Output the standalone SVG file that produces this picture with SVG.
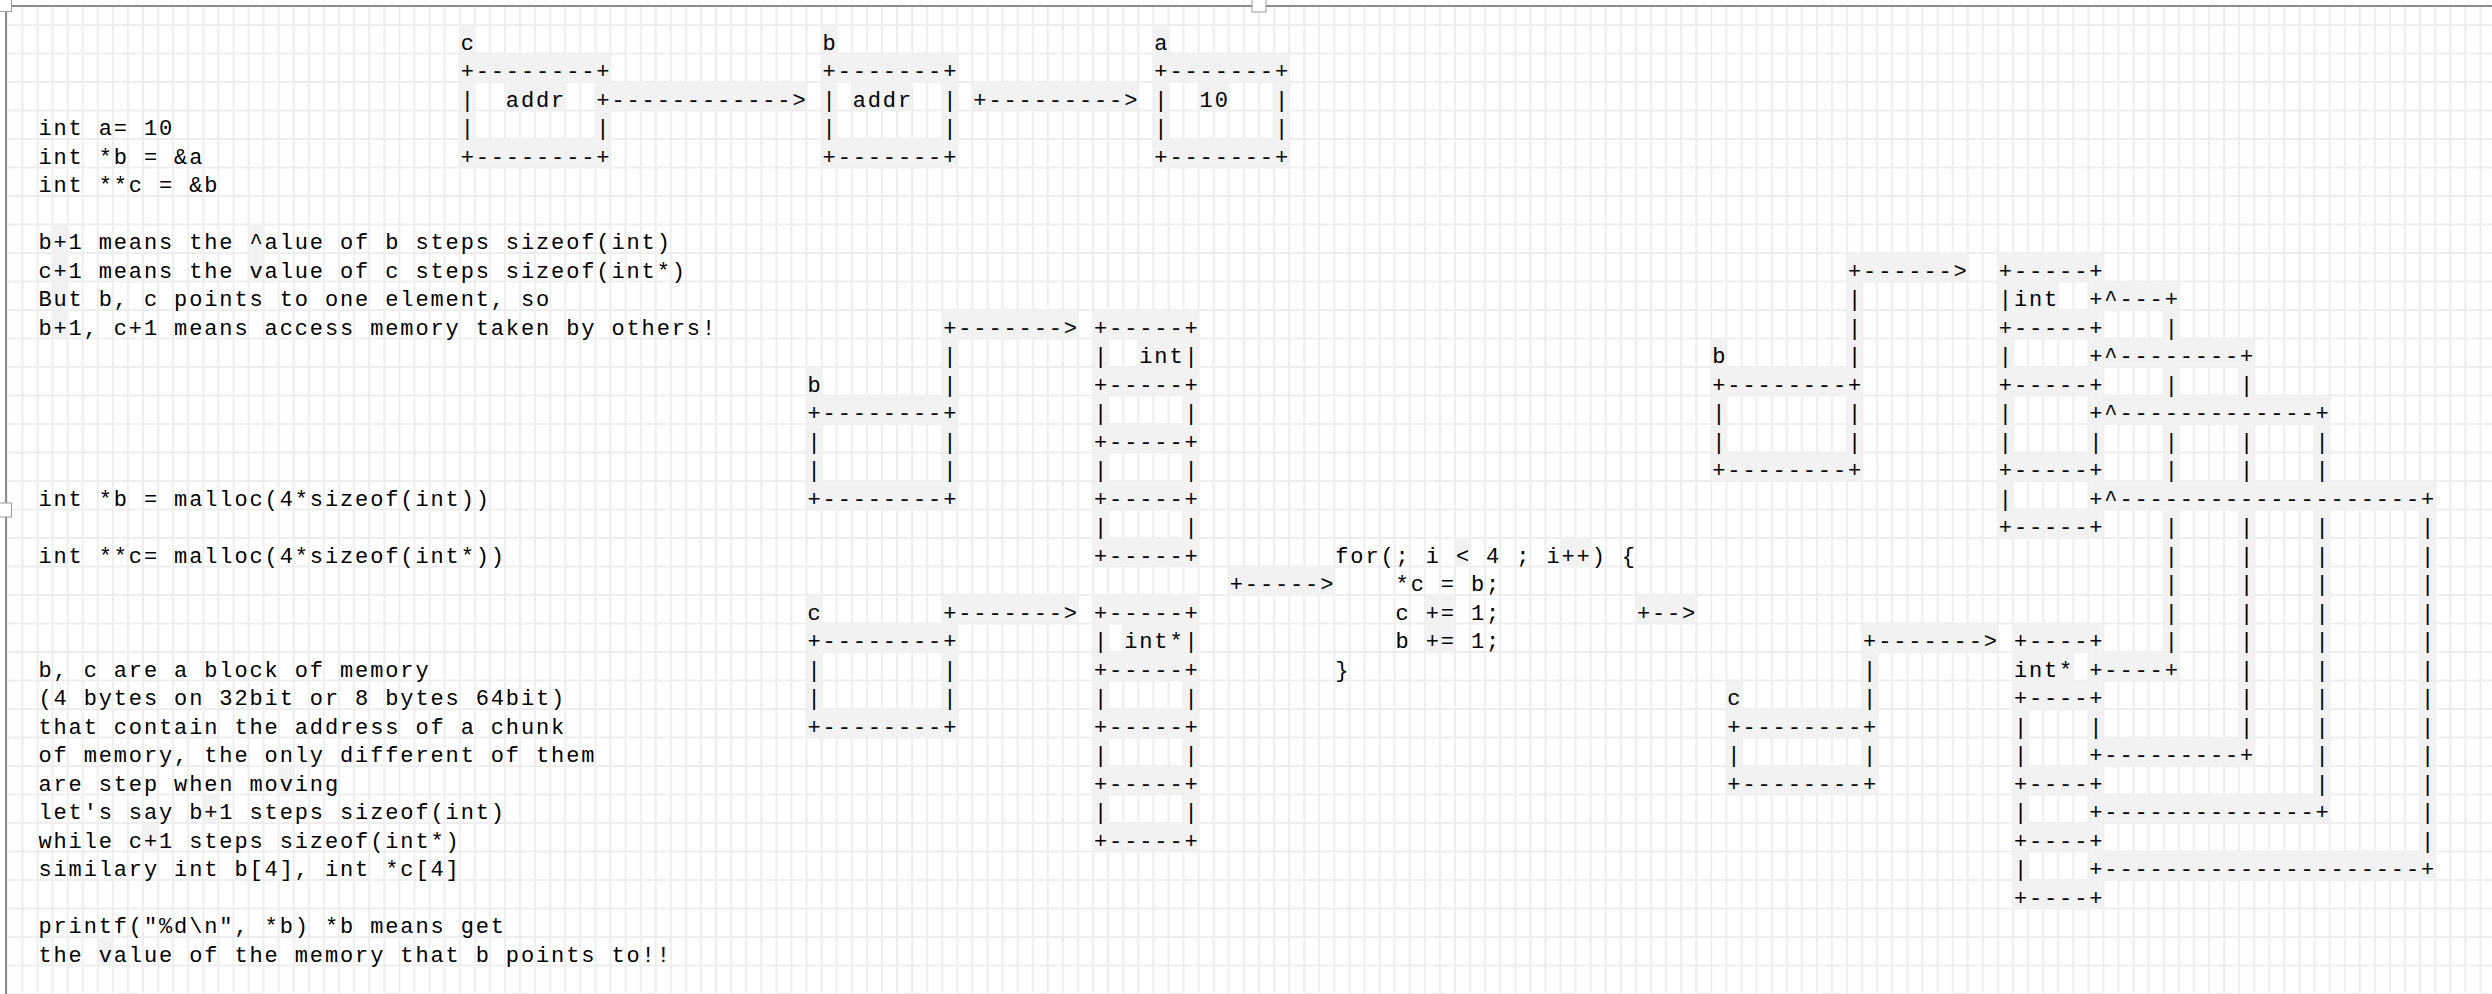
<svg xmlns="http://www.w3.org/2000/svg" width="2492" height="994" viewBox="0 0 2492 994">
<defs>
<pattern id="grid" patternUnits="userSpaceOnUse" x="6.3" y="24" width="15.08" height="28.5">
<rect width="15.08" height="28.5" fill="#ffffff"/>
<path d="M1 0 V28.5 M0 1 H15.08" stroke="#eeeeee" stroke-width="2" fill="none"/>
</pattern>
</defs>
<style>
.t{font-family:"Liberation Mono","DejaVu Sans Mono",monospace;font-size:22px;letter-spacing:1.878px;fill:#000000}
.p{fill:#f2f2f2}
.h{fill:#ffffff;stroke:#9a9a9a;stroke-width:1}
</style>
<rect x="0" y="0" width="2492" height="994" fill="#ffffff"/>
<rect id="page" x="6" y="6" width="2506" height="1008" fill="url(#grid)" stroke="#8c8c8c" stroke-width="2"/>

<g id="patches" class="p" transform="translate(7.3,25) scale(15.08,28.5)">
<rect x="30" y="0" width="1" height="1"/><rect x="54" y="0" width="1" height="1"/><rect x="76" y="0" width="1" height="1"/>
<rect x="30" y="1" width="10" height="1"/><rect x="30" y="2" width="1" height="2"/><rect x="33" y="2" width="4" height="1"/><rect x="39" y="2" width="1" height="2"/><rect x="30" y="4" width="10" height="1"/><rect x="40" y="2" width="13" height="1"/>
<rect x="54" y="1" width="9" height="1"/><rect x="54" y="2" width="1" height="2"/><rect x="56" y="2" width="4" height="1"/><rect x="62" y="2" width="1" height="2"/><rect x="54" y="4" width="9" height="1"/><rect x="64" y="2" width="11" height="1"/>
<rect x="76" y="1" width="9" height="1"/><rect x="76" y="2" width="1" height="2"/><rect x="79" y="2" width="2" height="1"/><rect x="84" y="2" width="1" height="2"/><rect x="76" y="4" width="9" height="1"/>
<rect x="53" y="12" width="1" height="1"/><rect x="53" y="13" width="10" height="1"/><rect x="53" y="14" width="1" height="2"/><rect x="62" y="14" width="1" height="2"/><rect x="53" y="16" width="10" height="1"/>
<rect x="62" y="10" width="9" height="1"/><rect x="62" y="11" width="1" height="2"/>
<rect x="72" y="10" width="1" height="9"/><rect x="78" y="10" width="1" height="9"/><rect x="73" y="10" width="5" height="1"/><rect x="73" y="12" width="5" height="1"/><rect x="73" y="14" width="5" height="1"/><rect x="73" y="16" width="5" height="1"/><rect x="73" y="18" width="5" height="1"/><rect x="75" y="11" width="3" height="1"/>
<rect x="53" y="20" width="1" height="1"/><rect x="53" y="21" width="10" height="1"/><rect x="53" y="22" width="1" height="2"/><rect x="62" y="22" width="1" height="2"/><rect x="53" y="24" width="10" height="1"/><rect x="62" y="20" width="9" height="1"/>
<rect x="72" y="20" width="1" height="9"/><rect x="78" y="20" width="1" height="9"/><rect x="73" y="20" width="5" height="1"/><rect x="73" y="22" width="5" height="1"/><rect x="73" y="24" width="5" height="1"/><rect x="73" y="26" width="5" height="1"/><rect x="73" y="28" width="5" height="1"/><rect x="74" y="21" width="4" height="1"/>
<rect x="96" y="18" width="1" height="1"/><rect x="103" y="18" width="2" height="1"/><rect x="94" y="20" width="2" height="1"/><rect x="94" y="21" width="2" height="1"/>
<rect x="81" y="19" width="7" height="1"/><rect x="108" y="20" width="4" height="1"/>
<rect x="113" y="11" width="1" height="1"/><rect x="113" y="12" width="10" height="1"/><rect x="113" y="13" width="1" height="2"/><rect x="122" y="13" width="1" height="2"/><rect x="113" y="15" width="10" height="1"/><rect x="122" y="8" width="8" height="1"/><rect x="122" y="9" width="1" height="3"/>
<rect x="132" y="8" width="1" height="10"/><rect x="138" y="8" width="1" height="10"/><rect x="133" y="8" width="5" height="1"/><rect x="133" y="10" width="5" height="1"/><rect x="133" y="12" width="5" height="1"/><rect x="133" y="15" width="5" height="1"/><rect x="133" y="17" width="5" height="1"/><rect x="133" y="9" width="3" height="1"/>
<rect x="139" y="9" width="5" height="1"/><rect x="139" y="11" width="10" height="1"/><rect x="139" y="13" width="15" height="1"/><rect x="139" y="16" width="22" height="1"/>
<rect x="143" y="10" width="1" height="12"/><rect x="148" y="12" width="1" height="13"/><rect x="153" y="14" width="1" height="13"/><rect x="160" y="17" width="1" height="12"/>
<rect x="139" y="22" width="5" height="1"/><rect x="139" y="25" width="10" height="1"/><rect x="139" y="27" width="15" height="1"/><rect x="139" y="29" width="22" height="1"/>
<rect x="114" y="23" width="1" height="1"/><rect x="114" y="24" width="10" height="1"/><rect x="114" y="25" width="1" height="1"/><rect x="123" y="25" width="1" height="1"/><rect x="114" y="26" width="10" height="1"/><rect x="123" y="21" width="9" height="1"/><rect x="123" y="22" width="1" height="2"/>
<rect x="133" y="21" width="1" height="10"/><rect x="138" y="21" width="1" height="10"/><rect x="134" y="21" width="4" height="1"/><rect x="134" y="22" width="3" height="1"/><rect x="134" y="23" width="4" height="1"/><rect x="134" y="26" width="4" height="1"/><rect x="134" y="28" width="4" height="1"/><rect x="134" y="30" width="4" height="1"/>
<rect x="3" y="7" width="1" height="4"/><rect x="16" y="7" width="1" height="2"/><rect x="18" y="26" width="1" height="1"/><rect x="13" y="27" width="1" height="1"/><rect x="9" y="28" width="1" height="1"/><rect x="6" y="32" width="1" height="1"/>
</g>

<g id="handles">
<rect class="h" x="-1" y="-1" width="12.5" height="12.5"/>
<rect class="h" x="1252" y="-1" width="14" height="13"/>
<rect class="h" x="-1" y="503" width="12.5" height="14"/>
</g>

<g id="notes" class="t">
<text x="38.4" y="135">int a= 10</text>
<text x="38.4" y="163.5">int *b = &amp;a</text>
<text x="38.4" y="192">int **c = &amp;b</text>
<text x="38.4" y="249">b+1 means the ^alue of b steps sizeof(int)</text>
<text x="38.4" y="277.5">c+1 means the value of c steps sizeof(int*)</text>
<text x="38.4" y="306">But b, c points to one element, so</text>
<text x="38.4" y="334.5">b+1, c+1 means access memory taken by others!</text>
<text x="38.4" y="505.5">int *b = malloc(4*sizeof(int))</text>
<text x="38.4" y="562.5">int **c= malloc(4*sizeof(int*))</text>
<text x="38.4" y="676.5">b, c are a block of memory</text>
<text x="38.4" y="705">(4 bytes on 32bit or 8 bytes 64bit)</text>
<text x="38.4" y="733.5">that contain the address of a chunk</text>
<text x="38.4" y="762">of memory, the only different of them</text>
<text x="38.4" y="790.5">are step when moving</text>
<text x="38.4" y="819">let's say b+1 steps sizeof(int)</text>
<text x="38.4" y="847.5">while c+1 steps sizeof(int*)</text>
<text x="38.4" y="876">similary int b[4], int *c[4]</text>
<text x="38.4" y="933">printf("%d\n", *b) *b means get</text>
<text x="38.4" y="961.5">the value of the memory that b points to!!</text>
</g>

<g id="box-c-top" class="t">
<text x="460.64" y="49.5">c</text>
<text x="460.64" y="78">+--------+</text>
<text x="460.64" y="106.5">|&#160;&#160;addr</text>
<text x="460.64" y="135">|&#160;&#160;&#160;&#160;&#160;&#160;&#160;&#160;|</text>
<text x="460.64" y="163.5">+--------+</text>
</g>
<g id="box-b-top" class="t">
<text x="822.56" y="49.5">b</text>
<text x="822.56" y="78">+-------+</text>
<text x="822.56" y="106.5">|&#160;addr&#160;&#160;|</text>
<text x="822.56" y="135">|&#160;&#160;&#160;&#160;&#160;&#160;&#160;|</text>
<text x="822.56" y="163.5">+-------+</text>
</g>
<g id="box-a-top" class="t">
<text x="1154.32" y="49.5">a</text>
<text x="1154.32" y="78">+-------+</text>
<text x="1154.32" y="106.5">|&#160;&#160;10&#160;&#160;&#160;|</text>
<text x="1154.32" y="135">|&#160;&#160;&#160;&#160;&#160;&#160;&#160;|</text>
<text x="1154.32" y="163.5">+-------+</text>
</g>

<g id="box-b-mid" class="t">
<text x="807.48" y="391.5">b</text>
<text x="807.48" y="420">+--------+</text>
<text x="807.48" y="448.5">|&#160;&#160;&#160;&#160;&#160;&#160;&#160;&#160;|</text>
<text x="807.48" y="477">|&#160;&#160;&#160;&#160;&#160;&#160;&#160;&#160;|</text>
<text x="807.48" y="505.5">+--------+</text>
</g>
<g id="array-int-mid" class="t">
<text x="1094" y="334.5">+-----+</text>
<text x="1094" y="363">|&#160;&#160;int|</text>
<text x="1094" y="391.5">+-----+</text>
<text x="1094" y="420">|&#160;&#160;&#160;&#160;&#160;|</text>
<text x="1094" y="448.5">+-----+</text>
<text x="1094" y="477">|&#160;&#160;&#160;&#160;&#160;|</text>
<text x="1094" y="505.5">+-----+</text>
<text x="1094" y="534">|&#160;&#160;&#160;&#160;&#160;|</text>
<text x="1094" y="562.5">+-----+</text>
</g>
<g id="box-c-mid" class="t">
<text x="807.48" y="619.5">c</text>
<text x="807.48" y="648">+--------+</text>
<text x="807.48" y="676.5">|&#160;&#160;&#160;&#160;&#160;&#160;&#160;&#160;|</text>
<text x="807.48" y="705">|&#160;&#160;&#160;&#160;&#160;&#160;&#160;&#160;|</text>
<text x="807.48" y="733.5">+--------+</text>
</g>
<g id="array-intp-mid" class="t">
<text x="1094" y="619.5">+-----+</text>
<text x="1094" y="648">|&#160;int*|</text>
<text x="1094" y="676.5">+-----+</text>
<text x="1094" y="705">|&#160;&#160;&#160;&#160;&#160;|</text>
<text x="1094" y="733.5">+-----+</text>
<text x="1094" y="762">|&#160;&#160;&#160;&#160;&#160;|</text>
<text x="1094" y="790.5">+-----+</text>
<text x="1094" y="819">|&#160;&#160;&#160;&#160;&#160;|</text>
<text x="1094" y="847.5">+-----+</text>
</g>
<g id="for-loop" class="t">
<text x="1335.28" y="562.5">for(;&#160;i&#160;&lt;&#160;4&#160;;&#160;i++)&#160;{</text>
<text x="1395.6" y="591">*c&#160;=&#160;b;</text>
<text x="1395.6" y="619.5">c&#160;+=&#160;1;</text>
<text x="1395.6" y="648">b&#160;+=&#160;1;</text>
<text x="1335.28" y="676.5">}</text>
</g>

<g id="box-b-right" class="t">
<text x="1712.28" y="363">b</text>
<text x="1712.28" y="391.5">+--------+</text>
<text x="1712.28" y="420">|&#160;&#160;&#160;&#160;&#160;&#160;&#160;&#160;|</text>
<text x="1712.28" y="448.5">|&#160;&#160;&#160;&#160;&#160;&#160;&#160;&#160;|</text>
<text x="1712.28" y="477">+--------+</text>
</g>
<g id="array-int-right" class="t">
<text x="1998.8" y="277.5">+-----+</text>
<text x="1998.8" y="306">|int</text>
<text x="1998.8" y="334.5">+-----+</text>
<text x="1998.8" y="363">|</text>
<text x="1998.8" y="391.5">+-----+</text>
<text x="1998.8" y="420">|</text>
<text x="1998.8" y="448.5">|&#160;&#160;&#160;&#160;&#160;|</text>
<text x="1998.8" y="477">+-----+</text>
<text x="1998.8" y="505.5">|</text>
<text x="1998.8" y="534">+-----+</text>
</g>
<g id="box-c-right" class="t">
<text x="1727.36" y="705">c</text>
<text x="1727.36" y="733.5">+--------+</text>
<text x="1727.36" y="762">|&#160;&#160;&#160;&#160;&#160;&#160;&#160;&#160;|</text>
<text x="1727.36" y="790.5">+--------+</text>
</g>
<g id="array-intp-right" class="t">
<text x="2013.88" y="648">+----+</text>
<text x="2013.88" y="676.5">int*</text>
<text x="2013.88" y="705">+----+</text>
<text x="2013.88" y="733.5">|&#160;&#160;&#160;&#160;|</text>
<text x="2013.88" y="762">|</text>
<text x="2013.88" y="790.5">+----+</text>
<text x="2013.88" y="819">|</text>
<text x="2013.88" y="847.5">+----+</text>
<text x="2013.88" y="876">|</text>
<text x="2013.88" y="904.5">+----+</text>
</g>

<g id="connectors" class="t">
<text x="596.36" y="106.5">+------------&gt;</text>
<text x="973.36" y="106.5">+---------&gt;</text>
<text x="943.2" y="334.5">+-------&gt;</text>
<text x="943.2" y="363">|</text>
<text x="943.2" y="391.5">|</text>
<text x="943.2" y="619.5">+-------&gt;</text>
<text x="1229.72" y="591">+-----&gt;</text>
<text x="1636.88" y="619.5">+--&gt;</text>
<text x="1848" y="277.5">+------&gt;</text>
<text x="1848" y="306">|</text>
<text x="1848" y="334.5">|</text>
<text x="1848" y="363">|</text>
<text x="1863.08" y="648">+-------&gt;</text>
<text x="1863.08" y="676.5">|</text>
<text x="1863.08" y="705">|</text>
<text x="2089.28" y="306">+^---+</text>
<text x="2089.28" y="363">+^--------+</text>
<text x="2089.28" y="420">+^-------------+</text>
<text x="2089.28" y="505.5">+^--------------------+</text>
<text x="2164.68" y="334.5">|</text>
<text x="2164.68" y="391.5">|&#160;&#160;&#160;&#160;|</text>
<text x="2164.68" y="448.5">|&#160;&#160;&#160;&#160;|&#160;&#160;&#160;&#160;|</text>
<text x="2164.68" y="477">|&#160;&#160;&#160;&#160;|&#160;&#160;&#160;&#160;|</text>
<text x="2164.68" y="534">|&#160;&#160;&#160;&#160;|&#160;&#160;&#160;&#160;|&#160;&#160;&#160;&#160;&#160;&#160;|</text>
<text x="2164.68" y="562.5">|&#160;&#160;&#160;&#160;|&#160;&#160;&#160;&#160;|&#160;&#160;&#160;&#160;&#160;&#160;|</text>
<text x="2164.68" y="591">|&#160;&#160;&#160;&#160;|&#160;&#160;&#160;&#160;|&#160;&#160;&#160;&#160;&#160;&#160;|</text>
<text x="2164.68" y="619.5">|&#160;&#160;&#160;&#160;|&#160;&#160;&#160;&#160;|&#160;&#160;&#160;&#160;&#160;&#160;|</text>
<text x="2164.68" y="648">|&#160;&#160;&#160;&#160;|&#160;&#160;&#160;&#160;|&#160;&#160;&#160;&#160;&#160;&#160;|</text>
<text x="2089.28" y="676.5">+----+</text>
<text x="2240.08" y="676.5">|&#160;&#160;&#160;&#160;|&#160;&#160;&#160;&#160;&#160;&#160;|</text>
<text x="2240.08" y="705">|&#160;&#160;&#160;&#160;|&#160;&#160;&#160;&#160;&#160;&#160;|</text>
<text x="2240.08" y="733.5">|&#160;&#160;&#160;&#160;|&#160;&#160;&#160;&#160;&#160;&#160;|</text>
<text x="2089.28" y="762">+---------+</text>
<text x="2315.48" y="762">|&#160;&#160;&#160;&#160;&#160;&#160;|</text>
<text x="2315.48" y="790.5">|&#160;&#160;&#160;&#160;&#160;&#160;|</text>
<text x="2089.28" y="819">+--------------+</text>
<text x="2421.04" y="819">|</text>
<text x="2421.04" y="847.5">|</text>
<text x="2089.28" y="876">+---------------------+</text>
</g>
</svg>
